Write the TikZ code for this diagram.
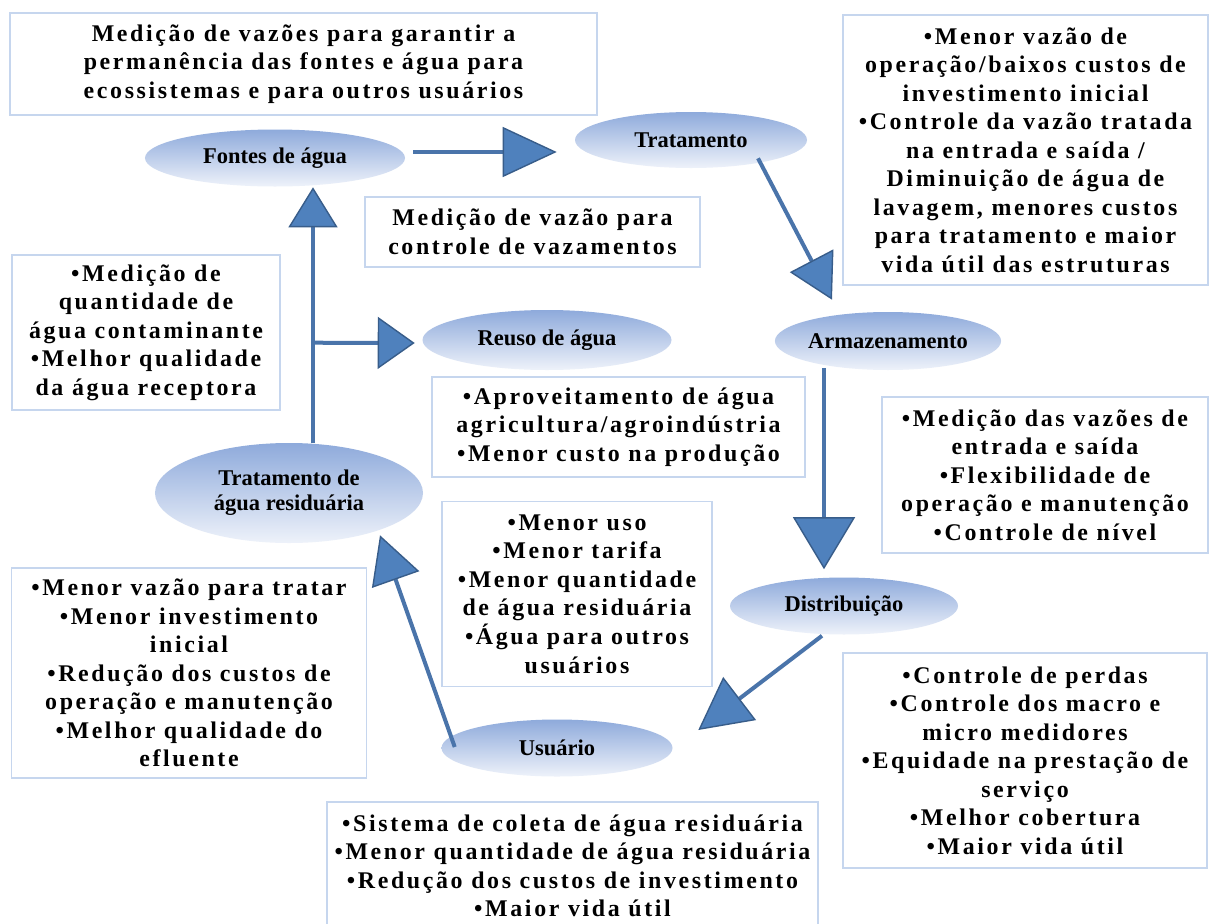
\documentclass[tikz,border=0pt]{standalone}
\usepackage{fontspec}
\setmainfont{Liberation Serif}
\usepackage{tikz}
\usetikzlibrary{shapes.geometric, arrows.meta, positioning, calc}
\definecolor{ellipsetop}{RGB}{142, 170, 219}
\definecolor{ellipsebottom}{RGB}{238, 242, 250}
\definecolor{tipcolor}{RGB}{79, 129, 189}
\definecolor{tipborder}{RGB}{56, 93, 138}
\definecolor{flowcolor}{RGB}{74, 116, 170}
\definecolor{boxborder}{RGB}{198, 214, 238}
\newcommand{\boxfont}{\fontsize{17}{20.3}\selectfont\bfseries\addfontfeature{LetterSpace=11}}
\newcommand{\stagefont}{\fontsize{16}{18}\selectfont\bfseries}

\begin{document}
\begin{tikzpicture}[
    x=0.25mm, y=-0.25mm,
    stage/.style={ellipse, inner sep=0pt, top color=ellipsetop, bottom color=ellipsebottom, align=center, font=\stagefont},
    note/.style={draw=boxborder, line width=1.2pt, fill=white, inner sep=0pt, align=center, font=\boxfont},
    flow/.style 2 args={draw=flowcolor, line width=1mm, -{Triangle[length=#1, width=#2, line width=1pt, fill=tipcolor, color=tipborder]}},
]
    \clip (0,0) rectangle (1214,924);
    \fill[white] (0,0) rectangle (1214,924);

    % Notes
    \node[note, minimum width=146.75mm, minimum height=25.5mm] (fontesnote) at (303.5, 64) {Medição de vazões para garantir a\\permanência das fontes e água para\\ecossistemas e para outros usuários};
    \node[note, minimum width=91.25mm, minimum height=67.5mm] (tratnote) at (1025.5, 150) {•Menor vazão de\\operação/baixos custos de\\investimento inicial\\•Controle da vazão tratada\\na entrada e saída /\\Diminuição de água de\\lavagem, menores custos\\para tratamento e maior\\vida útil das estruturas};
    \node[note, minimum width=83.75mm, minimum height=17.5mm] (vazamnote) at (532.5, 232) {Medição de vazão para\\controle de vazamentos};
    \node[note, minimum width=67mm, minimum height=38.75mm] (receptnote) at (146, 332.5) {•Medição de\\quantidade de\\água contaminante\\•Melhor qualidade\\da água receptora};
    \node[note, minimum width=93.25mm, minimum height=25mm] (reusonote) at (618.5, 427) {•Aproveitamento de água\\agricultura/agroindústria\\•Menor custo na produção};
    \node[note, minimum width=81.5mm, minimum height=39mm] (armnote) at (1045, 475) {•Medição das vazões de\\entrada e saída\\•Flexibilidade de\\operação e manutenção\\•Controle de nível};
    \node[note, minimum width=67.5mm, minimum height=46.25mm] (usunote) at (577, 594) {•Menor uso\\•Menor tarifa\\•Menor quantidade\\de água residuária\\•Água para outros\\usuários};
    \node[note, minimum width=88.75mm, minimum height=52.5mm] (tresnote) at (189, 673) {•Menor vazão para tratar\\•Menor investimento\\inicial\\•Redução dos custos de\\operação e manutenção\\•Melhor qualidade do\\efluente};
    \node[note, minimum width=91mm, minimum height=53.75mm] (distnote) at (1025, 760.5) {•Controle de perdas\\•Controle dos macro e\\micro medidores\\•Equidade na prestação de\\serviço\\•Melhor cobertura\\•Maior vida útil};
    \node[note, minimum width=122.75mm, minimum height=32mm] (coletanote) at (572.5, 866) {•Sistema de coleta de água residuária\\•Menor quantidade de água residuária\\•Redução dos custos de investimento\\•Maior vida útil};

    % Stages
    \node[stage, minimum width=65mm, minimum height=14.25mm] (fontes) at (275, 158) {Fontes de água};
    \node[stage, minimum width=58mm, minimum height=14mm] (trat) at (691, 140) {Tratamento};
    \node[stage, minimum width=62.25mm, minimum height=15mm] (reuso) at (547, 340) {Reuso de água};
    \node[stage, minimum width=55.75mm, minimum height=14.5mm] (arm) at (888, 341) {Armazenamento};
    \node[stage, minimum width=67mm, minimum height=25mm] (tres) at (289, 493) {Tratamento de\\água residuária};
    \node[stage, minimum width=57mm, minimum height=14.25mm] (dist) at (844, 606) {Distribuição};
    \node[stage, minimum width=57.75mm, minimum height=14.25mm] (usu) at (557, 748) {Usuário};

    % Flows
    \draw[flow={13.5mm}{12.5mm}] ($(fontes.east)+(8,-6)$) -- ($(trat.west)+(-18,12)$);
    \draw[flow={11mm}{12.25mm}] ($(trat.south)+(67,-10)$) -- ($(arm.north)+(-56,-12)$);
    \draw[flow={13mm}{15.5mm}] ($(arm.south)+(-64,-2)$) -- ($(dist.north)+(-20,-8)$);
    \draw[flow={13mm}{13.5mm}] ($(dist.south)+(-22,1)$) -- ($(usu.east)+(25.5,-18)$);
    \draw[flow={11.75mm}{12.5mm}] ($(usu.west)+(13.5,-1)$) -- ($(tres.south)+(91,-8)$);
    \draw[flow={10mm}{12.25mm}] ($(tres.north)+(24,0)$) -- ($(fontes.south)+(38,0.5)$);
    \coordinate (branch) at ($(tres.north)+(24,-100)$);
    \draw[flow={9.25mm}{13mm}] (branch) -- ($(reuso.west)+(-7.5,3)$);

\end{tikzpicture}
\end{document}
